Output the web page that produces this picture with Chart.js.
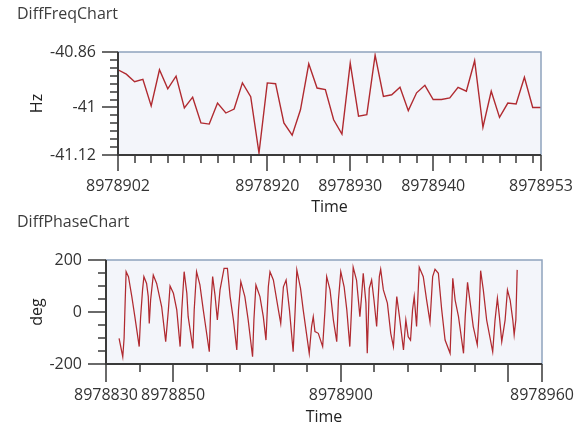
<!DOCTYPE html>
<html>
<head>
<meta charset="utf-8">
<title>DiffFreqChart / DiffPhaseChart</title>
<script src="https://cdn.jsdelivr.net/npm/chart.js@4.4.1/dist/chart.umd.min.js"></script>
<style>
    html, body { margin: 0; padding: 0; background: #fff; overflow: hidden; }
    .chart-box { position: absolute; left: 0; width: 586px; height: 217px; }
    #freqBox { top: 0; }
    #phaseBox { top: 210px; }
</style>
</head>
<body>
<div id="freqBox" class="chart-box"><canvas id="freqChart" width="586" height="217"></canvas></div>
<div id="phaseBox" class="chart-box"><canvas id="phaseChart" width="586" height="217"></canvas></div>

<script>
// DiffFreqChart data (one sample per second)
var freqTimes = [
    8978902, 8978903, 8978904, 8978905, 8978906, 8978907, 8978908, 8978909, 8978910, 8978911,
    8978912, 8978913, 8978914, 8978915, 8978916, 8978917, 8978918, 8978919, 8978920, 8978921,
    8978922, 8978923, 8978924, 8978925, 8978926, 8978927, 8978928, 8978929, 8978930, 8978931,
    8978932, 8978933, 8978934, 8978935, 8978936, 8978937, 8978938, 8978939, 8978940, 8978941,
    8978942, 8978943, 8978944, 8978945, 8978946, 8978947, 8978948, 8978949, 8978950, 8978951,
    8978952, 8978953
];
var freqValues = [
    -40.905, -40.916, -40.935, -40.929, -40.996, -40.905, -40.953, -40.921, -41.001, -40.974,
    -41.039, -41.042, -40.989, -41.014, -41.004, -40.938, -40.973, -41.115, -40.938, -40.940,
    -41.039, -41.070, -41.006, -40.890, -40.951, -40.955, -41.031, -41.067, -40.888, -41.022,
    -41.018, -40.868, -40.972, -40.968, -40.949, -41.008, -40.963, -40.944, -40.980, -40.980,
    -40.976, -40.949, -40.959, -40.882, -41.050, -40.959, -41.025, -40.989, -40.991, -40.924,
    -41.000, -41.000
];
var freqXLabels = [8978902, 8978920, 8978930, 8978940, 8978953];
var freqXMajor = [8978902, 8978920, 8978930, 8978940, 8978953];
var freqYLabels = [-41.12, -41, -40.86];

// DiffPhaseChart data (turning points of the trace)
var phaseTimes = [
    8978833.9, 8978835.0, 8978835.4, 8978835.7, 8978836.0, 8978836.7, 8978837.7, 8978838.6, 8978839.9, 8978840.3,
    8978840.9, 8978841.3, 8978842.1, 8978842.6, 8978842.9, 8978843.3, 8978844.1, 8978845.1, 8978846.6, 8978847.8,
    8978848.6, 8978849.1, 8978850.1, 8978851.1, 8978852.1, 8978852.6, 8978853.3, 8978854.1, 8978854.5, 8978855.9,
    8978856.3, 8978857.0, 8978858.0, 8978859.0, 8978860.8, 8978861.2, 8978861.8, 8978862.5, 8978863.2, 8978864.0,
    8978865.2, 8978866.2, 8978867.0, 8978868.0, 8978869.0, 8978869.5, 8978870.2, 8978871.4, 8978872.4, 8978873.7,
    8978874.1, 8978874.7, 8978875.9, 8978876.9, 8978877.7, 8978878.4, 8978878.9, 8978879.9, 8978881.4, 8978882.1,
    8978882.9, 8978883.7, 8978884.7, 8978885.8, 8978886.4, 8978886.9, 8978888.0, 8978888.8, 8978890.6, 8978891.3,
    8978891.8, 8978892.3, 8978893.3, 8978894.6, 8978895.3, 8978895.8, 8978896.8, 8978897.8, 8978898.8, 8978899.3,
    8978900.0, 8978901.0, 8978901.8, 8978902.7, 8978903.2, 8978903.7, 8978904.7, 8978905.7, 8978906.2, 8978906.7,
    8978907.5, 8978907.9, 8978908.5, 8978909.2, 8978909.9, 8978910.7, 8978911.5, 8978911.9, 8978912.7, 8978913.9,
    8978914.9, 8978915.7, 8978916.7, 8978917.5, 8978918.7, 8978919.4, 8978920.1, 8978920.8, 8978921.4, 8978921.9,
    8978922.6, 8978923.4, 8978924.6, 8978925.6, 8978926.6, 8978927.4, 8978928.1, 8978929.1, 8978930.1, 8978931.1,
    8978932.6, 8978933.4, 8978934.1, 8978935.1, 8978936.6, 8978937.1, 8978937.8, 8978938.6, 8978939.5, 8978940.7,
    8978941.3, 8978941.7, 8978942.5, 8978943.5, 8978945.3, 8978946.0, 8978946.7, 8978947.3, 8978948.0, 8978949.0,
    8978949.7, 8978950.5, 8978951.3, 8978951.7, 8978952.2, 8978952.6
];
var phaseValues = [
    -101, -172, -100, 34, 155, 136, 59, -18, -133, -24,
    85, 136, 110, 59, -44, 46, 142, 110, 20, -114,
    8, 100, 72, 8, -133, 8, 155, 72, -18, -140,
    8, 155, 104, 8, -153, 8, 136, 65, -31, 85,
    168, 168, 59, -31, -146, 8, 117, 59, -31, -172,
    -31, 104, 59, -18, -108, 97, 155, 123, 8, -44,
    97, 123, 8, -153, 8, 162, 91, 8, -159, -56,
    -18, -75, -82, -133, 8, 136, 85, -31, -114, 46,
    155, 97, 8, -133, 8, 172, 123, -18, 59, 149,
    34, -159, 91, 123, 46, -56, 136, 164, 85, 34,
    -82, -133, 59, -18, -146, -31, -95, -108, 8, 59,
    -56, 172, 136, 46, -38, 136, 164, 149, 8, -108,
    -159, 130, 46, -18, -159, -18, 114, 34, -56, -126,
    8, 159, 85, -31, -153, -31, 53, -18, -114, -31,
    85, 46, -31, -88, -31, 162
];
var phaseXLabels = [8978830, 8978850, 8978900, 8978960];
var phaseXMajor = [8978830, 8978850, 8978900, 8978950, 8978960];
var phaseYLabels = [-200, 0, 200];

var FONT = "'Open Sans', 'Noto Sans', sans-serif";
var LINE_COLOR = '#b02a30';
var TEXT_COLOR = '#333333';

Chart.defaults.font.family = FONT;
Chart.defaults.color = TEXT_COLOR;

// Build a tick list: minor steps plus any extra label values
function buildTicks(min, max, step, extra) {
    var list = [];
    for (var v = min; v <= max + 1e-9; v += step) {
        list.push(Math.round(v * 1000) / 1000);
    }
    extra.forEach(function(e) {
        if (list.indexOf(e) < 0) {
            list.push(e);
        }
    });
    list.sort(function(a, b) { return a - b; });
    return list.map(function(v) { return { value: v }; });
}

function hasValue(list, v) {
    for (var i = 0; i < list.length; i++) {
        if (Math.abs(list[i] - v) < 1e-6) {
            return true;
        }
    }
    return false;
}

// Plot background, frame, axis lines and major/minor tick marks
var framePlugin = {
    id: 'frame',
    beforeDatasetsDraw: function(chart) {
        var a = chart.chartArea;
        var ctx = chart.ctx;
        ctx.save();
        ctx.fillStyle = '#f3f5fa';
        ctx.fillRect(a.left, a.top, a.right - a.left, a.bottom - a.top);
        ctx.restore();
    },
    afterDatasetsDraw: function(chart, args, opts) {
        var a = chart.chartArea;
        var ctx = chart.ctx;
        var xs = chart.scales.x;
        var ys = chart.scales.y;
        ctx.save();
        ctx.strokeStyle = '#8fa3bd';
        ctx.lineWidth = 1.5;
        ctx.strokeRect(a.left, a.top, a.right - a.left, a.bottom - a.top);

        ctx.strokeStyle = '#3a3a3a';
        ctx.lineWidth = 2;
        ctx.beginPath();
        ctx.moveTo(a.left, a.top);
        ctx.lineTo(a.left, a.bottom);
        ctx.lineTo(a.right, a.bottom);
        ctx.stroke();

        ctx.lineWidth = 1.5;
        ctx.beginPath();
        xs.ticks.forEach(function(t) {
            var px = Math.round(xs.getPixelForValue(t.value));
            var len = hasValue(opts.xMajor, t.value) ? opts.majorLen : opts.minorLen;
            ctx.moveTo(px, a.bottom);
            ctx.lineTo(px, a.bottom + len);
        });
        ys.ticks.forEach(function(t) {
            var py = Math.round(ys.getPixelForValue(t.value));
            var len = hasValue(opts.yLabels, t.value) ? opts.majorLen : opts.minorLen;
            ctx.moveTo(a.left, py);
            ctx.lineTo(a.left - len, py);
        });
        ctx.stroke();
        ctx.restore();
    }
};

function makeChart(canvasId, cfg) {
    var ctx = document.getElementById(canvasId);
    var points = cfg.times.map(function(t, i) {
        return { x: t, y: cfg.values[i] };
    });
    return new Chart(ctx, {
        type: 'line',
        data: {
            datasets: [{
                data: points,
                borderColor: LINE_COLOR,
                borderWidth: cfg.lineWidth,
                pointRadius: 0,
                tension: 0,
                fill: false
            }]
        },
        options: {
            responsive: false,
            animation: false,
            events: [],
            layout: { padding: { left: 17, right: cfg.rightPad, top: 0, bottom: 0 } },
            plugins: {
                legend: { display: false },
                tooltip: { enabled: false },
                title: {
                    display: true,
                    text: cfg.title,
                    align: 'start',
                    color: '#3c3c3c',
                    font: { size: 16, weight: 'normal', family: FONT },
                    padding: { top: cfg.titleTop, bottom: cfg.titleBottom }
                },
                frame: {
                    xMajor: cfg.xMajor,
                    yLabels: cfg.yLabels,
                    majorLen: cfg.majorLen,
                    minorLen: 8
                }
            },
            scales: {
                x: {
                    type: 'linear',
                    min: cfg.xMin,
                    max: cfg.xMax,
                    border: { display: false },
                    grid: {
                        drawOnChartArea: false,
                        drawTicks: true,
                        tickLength: 16,
                        color: 'rgba(0,0,0,0)'
                    },
                    afterBuildTicks: function(scale) {
                        scale.ticks = buildTicks(cfg.xMin, cfg.xMinorEnd, cfg.xStep, cfg.xLabels.concat(cfg.xMajor));
                    },
                    afterFit: function(scale) {
                        scale.height = cfg.xAxisHeight;
                        scale.paddingLeft = 0;
                        scale.paddingRight = 0;
                    },
                    ticks: {
                        autoSkip: false,
                        maxRotation: 0,
                        minRotation: 0,
                        padding: 6,
                        color: TEXT_COLOR,
                        font: { size: 16 },
                        callback: function(value) {
                            return hasValue(cfg.xLabels, value) ? String(value) : '';
                        }
                    },
                    title: {
                        display: true,
                        text: 'Time',
                        color: '#222222',
                        font: { size: 16 },
                        padding: { top: 0, bottom: 0 }
                    }
                },
                y: {
                    min: cfg.yMin,
                    max: cfg.yMax,
                    border: { display: false },
                    grid: {
                        drawOnChartArea: false,
                        drawTicks: true,
                        tickLength: cfg.majorLen,
                        color: 'rgba(0,0,0,0)'
                    },
                    afterBuildTicks: function(scale) {
                        scale.ticks = buildTicks(cfg.yMin, cfg.yMax, cfg.yStep, cfg.yLabels);
                    },
                    afterFit: function(scale) {
                        scale.width = cfg.yAxisWidth;
                        scale.paddingTop = 0;
                        scale.paddingBottom = 0;
                    },
                    ticks: {
                        autoSkip: false,
                        padding: 6,
                        color: TEXT_COLOR,
                        font: { size: 16 },
                        callback: function(value) {
                            return hasValue(cfg.yLabels, value) ? String(value) : '';
                        }
                    },
                    title: {
                        display: true,
                        text: cfg.yTitle,
                        color: '#222222',
                        font: { size: 16 },
                        padding: { top: 11, bottom: 0 }
                    }
                }
            }
        },
        plugins: [framePlugin]
    });
}

makeChart('freqChart', {
    title: 'DiffFreqChart',
    times: freqTimes,
    values: freqValues,
    lineWidth: 1.4,
    xMin: 8978902,
    xMax: 8978953,
    xMinorEnd: 8978952,
    xStep: 2,
    xLabels: freqXLabels,
    xMajor: freqXMajor,
    yMin: -41.12,
    yMax: -40.86,
    yStep: 0.02,
    yLabels: freqYLabels,
    yTitle: 'Hz',
    majorLen: 16,
    titleTop: 5,
    titleBottom: 27.8,
    rightPad: 45,
    yAxisWidth: 101,
    xAxisHeight: 62
});

makeChart('phaseChart', {
    title: 'DiffPhaseChart',
    times: phaseTimes,
    values: phaseValues,
    lineWidth: 1.25,
    xMin: 8978830,
    xMax: 8978960,
    xMinorEnd: 8978960,
    xStep: 10,
    xLabels: phaseXLabels,
    xMajor: phaseXMajor,
    yMin: -200,
    yMax: 200,
    yStep: 50,
    yLabels: phaseYLabels,
    yTitle: 'deg',
    majorLen: 18,
    titleTop: 3,
    titleBottom: 27.8,
    rightPad: 44,
    yAxisWidth: 89,
    xAxisHeight: 63
});
</script>
</body>
</html>
